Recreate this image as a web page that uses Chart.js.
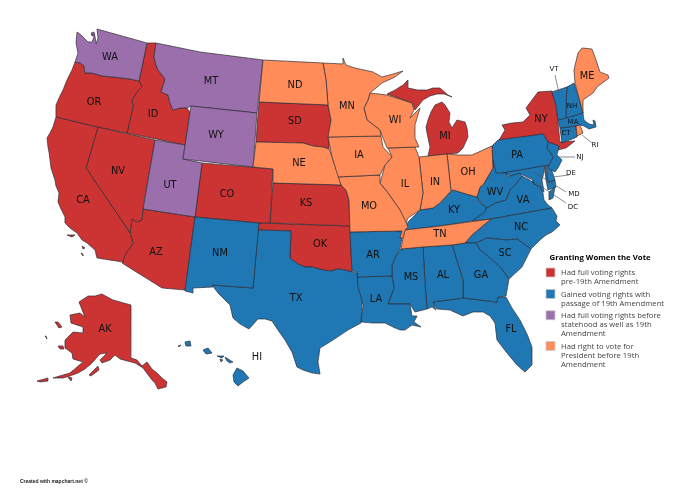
<!DOCTYPE html>
<html>
<head>
<meta charset="utf-8">
<title>Granting Women the Vote</title>
<script src="https://cdn.jsdelivr.net/npm/chart.js@4"></script>
<style>
  body { margin: 0; background: #fff; }
  canvas { display: block; }
</style>
</head>
<body>
<canvas id="map" width="675" height="491"></canvas>
<script>
// state outlines as [x, y] in map units
const WA = [[77,32],[80,34],[84,38],[88,42],[92,42],[94,37],[92,34],[95,36],[96,44],[98,38],[97,29],[122,36],[147,43],[139,81],[130,79],[113,77],[102,76],[92,73],[85,73],[84,66],[80,63],[75,62],[78,53],[76,43]];
const WA2 = [[91,33],[94,32],[95,35],[92,36]];
const OR = [[75,62],[80,63],[84,66],[85,73],[92,73],[102,76],[113,77],[130,79],[139,81],[142,87],[137,92],[132,100],[133,107],[127,133],[98,127],[56,117],[56,105],[60,96],[63,90],[67,80],[72,70]];
const CA = [[56,117],[98,127],[86,168],[130,233],[133,243],[130,248],[125,255],[123,262],[97,258],[95,250],[87,243],[82,240],[77,233],[70,228],[65,223],[65,217],[61,209],[58,202],[59,193],[56,186],[55,180],[51,168],[50,160],[49,152],[48,147],[47,138],[50,133],[53,127]];
const CA2 = [[67,235],[75,235],[72,237]];
const CA3 = [[82,246],[85,248],[83,249]];
const CA4 = [[81,253],[83,254],[83,256]];
const ID = [[147,43],[156,43],[154,57],[156,65],[158,70],[165,79],[161,92],[168,95],[170,103],[173,110],[180,108],[187,108],[190,112],[185,145],[127,133],[133,107],[132,100],[137,92],[142,87],[139,81]];
const NV = [[98,127],[155,140],[143,209],[142,220],[137,222],[132,219],[130,233],[86,168]];
const AZ = [[143,209],[195,217],[185,290],[162,288],[122,263],[125,255],[130,248],[133,243],[130,233],[132,219],[137,222],[142,220]];
const CO = [[202,163],[273,169],[270,223],[259,223],[195,217]];
const SD = [[259,102],[328,105],[331,120],[329,137],[329,149],[323,147],[313,146],[303,143],[256,142]];
const KS = [[273,183],[341,185],[346,190],[349,200],[350,226],[270,223]];
const OK = [[259,223],[350,226],[352,272],[345,270],[338,269],[331,271],[323,270],[312,267],[305,267],[298,264],[290,258],[291,231],[258,230]];
const AK = [[79,302],[88,296],[95,296],[102,294],[113,300],[131,305],[131,358],[137,360],[142,366],[147,362],[152,369],[157,373],[162,378],[167,382],[166,387],[158,389],[155,383],[152,380],[143,368],[135,363],[120,359],[115,355],[110,360],[102,363],[100,360],[107,353],[100,354],[92,363],[85,369],[78,373],[70,376],[63,378],[53,378],[63,375],[70,373],[77,367],[83,362],[73,359],[72,353],[65,348],[65,340],[73,332],[83,333],[83,327],[71,323],[70,315],[80,313],[85,317]];
const AK2 = [[89,375],[98,366],[99,370],[91,376]];
const AK3 = [[37,381],[48,378],[48,381],[40,382]];
const AK4 = [[55,322],[58,322],[62,327],[59,328]];
const AK5 = [[58,346],[63,346],[64,349],[60,349]];
const AK6 = [[45,336],[46,336],[47,339]];
const AK7 = [[68,377],[72,378],[71,381]];
const MI = [[387,94],[395,90],[403,85],[408,80],[408,88],[418,90],[427,90],[433,88],[440,88],[448,95],[452,97],[444,94],[437,94],[430,96],[423,100],[415,110],[412,103]];
const MI2 = [[428,156],[458,153],[463,148],[468,137],[467,128],[465,122],[457,120],[452,128],[449,122],[450,113],[445,105],[442,102],[435,105],[431,112],[428,120],[426,127],[427,133],[430,147]];
const NY = [[498,142],[505,130],[502,125],[512,123],[523,122],[530,115],[526,108],[532,100],[538,92],[552,91],[555,102],[557,113],[560,142],[575,141],[566,148],[558,150],[559,146],[548,142],[543,134]];

const NM = [[195,217],[259,223],[253,288],[212,285],[213,287],[193,288],[193,293],[185,291]];
const TX = [[258,230],[291,231],[290,258],[298,264],[305,267],[312,267],[323,270],[331,271],[338,269],[345,270],[352,272],[357,273],[358,287],[362,300],[361,323],[348,330],[333,340],[325,345],[320,348],[318,362],[320,374],[312,373],[303,370],[297,367],[292,352],[285,340],[280,333],[272,321],[265,319],[258,319],[249,329],[240,324],[233,318],[230,305],[224,299],[218,293],[212,285],[253,288]];
const AR = [[350,232],[402,231],[400,238],[402,238],[400,249],[396,256],[392,265],[392,276],[357,277],[357,272],[352,271]];
const LA = [[357,277],[392,276],[394,288],[388,304],[410,304],[412,316],[417,316],[414,322],[421,327],[412,325],[405,330],[400,330],[393,327],[385,323],[372,323],[361,322],[363,305],[357,290]];
const MS = [[401,249],[423,247],[425,283],[427,309],[415,312],[410,304],[388,304],[394,288],[392,276],[392,265],[396,256]];
const AL = [[423,247],[452,245],[463,280],[463,298],[433,302],[436,310],[432,307],[427,309],[425,283]];
const GA = [[452,245],[465,243],[476,243],[480,250],[490,258],[500,267],[509,279],[506,296],[498,297],[497,302],[463,298],[463,280]];
const FL = [[433,302],[463,298],[497,302],[498,297],[506,297],[512,308],[520,320],[527,334],[532,347],[532,365],[525,372],[517,365],[507,353],[497,340],[495,323],[490,316],[483,312],[473,312],[463,316],[450,310],[437,309]];
const SC = [[476,243],[487,238],[507,240],[517,239],[531,249],[522,267],[509,279],[500,267],[490,258],[480,250]];
const NC = [[491,219],[552,208],[557,216],[556,221],[560,225],[552,232],[546,235],[540,240],[531,249],[517,239],[507,240],[487,238],[476,243],[465,243],[472,235]];
const KY = [[405,230],[408,222],[420,210],[433,208],[440,203],[447,195],[453,190],[463,193],[477,197],[480,203],[486,207],[485,212],[472,221],[440,226]];
const WV = [[493,160],[496,173],[507,173],[507,177],[520,173],[522,176],[515,185],[510,190],[506,200],[495,203],[485,209],[477,197],[480,187],[483,185],[493,168]];
const VA = [[472,221],[485,209],[495,203],[506,200],[510,190],[515,185],[522,176],[530,180],[534,184],[540,187],[543,193],[544,200],[548,205],[552,208],[491,219]];
const VA2 = [[549,200],[549,192],[555,187],[553,198]];
const PA = [[492,146],[498,140],[543,134],[548,142],[547,148],[553,157],[549,165],[496,174],[493,168]];
const NJ = [[548,142],[559,146],[557,155],[562,160],[558,168],[555,172],[548,168],[553,157],[547,148]];
const DE = [[546,164],[550,165],[555,180],[548,182]];
const MD = [[496,174],[545,165],[544,172],[542,180],[544,192],[535,187],[533,180],[521,174],[512,176],[507,175],[497,180]];
const MD2 = [[545,165],[548,182],[555,180],[556,187],[548,190],[546,180],[545,172]];
const DC = [[533,180],[537,181],[538,185],[534,186],[531,183]];
const VT = [[552,92],[567,87],[566,102],[566,118],[558,120],[556,105]];
const NH = [[567,87],[574,83],[578,95],[583,113],[566,118],[566,102]];
const MA = [[558,120],[583,113],[584,120],[589,124],[594,125],[593,120],[595,121],[596,127],[589,129],[584,126],[580,125],[576,126],[560,128]];
const CT = [[560,128],[576,126],[577,137],[562,143]];
const HI1 = [[233,375],[237,368],[243,371],[249,378],[243,382],[238,386],[234,382]];
const HI2 = [[225,357],[233,362],[230,363],[227,361]];
const HI3 = [[203,350],[208,348],[212,353],[206,354]];
const HI4 = [[185,342],[190,341],[191,346],[186,346]];
const HI5 = [[178,346],[181,345],[179,347]];
const HI6 = [[217,356],[224,356],[222,358]];
const HI7 = [[220,359],[223,360],[221,362]];

const WY = [[191,106],[257,113],[253,167],[183,159]];
const MT = [[156,43],[200,52],[263,60],[257,113],[191,106],[187,108],[180,108],[173,110],[170,103],[168,95],[161,92],[165,79],[158,70],[156,65],[154,57]];
const UT = [[155,140],[185,145],[183,159],[202,163],[195,217],[143,209]];

const ND = [[263,60],[323,63],[326,80],[328,105],[259,102]];
const NE = [[256,142],[303,143],[313,146],[323,147],[329,149],[332,157],[337,173],[341,185],[273,183],[273,169],[253,167]];
const MN = [[323,63],[343,64],[343,58],[346,65],[355,68],[373,72],[382,77],[393,74],[403,71],[395,77],[382,83],[370,93],[368,100],[364,108],[367,120],[380,130],[381,136],[328,137],[331,120],[328,105],[326,80]];
const IA = [[328,137],[381,136],[383,147],[392,157],[385,165],[380,175],[337,177],[332,157]];
const MO = [[337,177],[380,175],[380,183],[388,193],[395,203],[400,210],[405,220],[408,227],[405,230],[403,238],[400,238],[402,231],[350,232],[349,200],[346,190],[341,185]];
const WI = [[370,93],[387,95],[412,103],[414,110],[410,118],[420,108],[415,125],[415,138],[419,147],[387,148],[383,138],[380,130],[367,120],[364,108],[368,100]];
const IL = [[388,148],[415,147],[419,157],[423,193],[420,210],[408,218],[405,226],[400,218],[400,210],[395,203],[388,193],[380,183],[382,176],[385,165],[392,157]];
const IN = [[419,157],[447,154],[451,191],[440,203],[433,208],[420,210],[423,193]];
const OH = [[447,154],[458,155],[472,155],[492,146],[493,168],[483,185],[480,187],[477,197],[463,193],[453,190],[451,191]];
const TN = [[405,230],[440,226],[491,219],[472,235],[465,243],[452,245],[423,247],[401,249],[403,238]];
const ME = [[583,113],[575,83],[574,70],[578,53],[582,48],[592,49],[596,60],[600,72],[608,75],[609,78],[597,87],[593,93],[583,100]];
const RI = [[576,126],[580,125],[583,133],[577,136]];

const fullRights = [OR, CA, CA2, CA3, CA4, ID, NV, AZ, CO, SD, KS, OK, AK, AK2, AK3, AK4, AK5, AK6, AK7, MI, MI2, NY];
const gainedRights = [NM, TX, AR, LA, MS, AL, GA, FL, SC, NC, KY, WV, VA, VA2, PA, NJ, DE, MD, MD2, DC, VT, NH, MA, CT, HI1, HI2, HI3, HI4, HI5, HI6, HI7];
const beforeStatehood = [WA, WA2, WY, MT, UT];
const presidentOnly = [ND, NE, MN, IA, MO, WI, IL, IN, OH, TN, ME, RI];

const leaders = [
  [[555,75],[559,93]],
  [[592,143],[582,135]],
  [[575,157],[558,157]],
  [[569,175],[553,177]],
  [[566,192],[534,172]],
  [[566,203],[536,183]]
];

const stateLabels = ['WA','OR','CA','NV','ID','MT','WY','UT','AZ','CO','NM','ND','SD','NE','KS','OK','TX','MN','IA','MO','AR','LA','WI','IL','IN','OH','MI','KY','TN','MS','AL','GA','FL','SC','NC','VA','WV','PA','NY','ME','AK','HI'];
const labelX = [110,94,83,118,153,211,216,170,156,227,220,295,295,299,306,320,296,347,359,369,373,376,395,405,435,468,445,454,440,411,443,481,511,505,521,523,495,517,541,587,105,257];
const labelY = [57,102,200,171,114,81,135,185,252,194,253,85,121,163,203,244,298,106,155,206,255,299,120,184,182,172,136,210,234,277,275,275,329,253,227,200,192,155,119,76,329,357];
const smallLabels = ['VT','NH','MA','CT','NJ','DE','MD','DC','RI'];
const smallX = [554,572,573,566,580,571,574,573,595];
const smallY = [69,106,122,133,157,173,194,207,145];

const legendTitle = 'Granting Women the Vote';
const legendLines = [
  ['Had full voting rights', 'pre-19th Amendment'],
  ['Gained voting rights with', 'passage of 19th Amendment'],
  ['Had full voting rights before', 'statehood as well as 19th', 'Amendment'],
  ['Had right to vote for', 'President before 19th', 'Amendment']
];
const legendColors = ['#cc3333', '#1f78b4', '#9a6fab', '#ff8c59'];

const toPoints = shape => shape.concat([shape[0]]).map(p => ({ x: p[0], y: p[1] }));
const shapeSet = (shape, color) => ({
  data: toPoints(shape),
  showLine: true,
  fill: 'shape',
  backgroundColor: color,
  borderColor: '#2b2b33',
  borderWidth: 0.7,
  pointRadius: 0,
  tension: 0.001,
  clip: false
});

const datasets = [];
leaders.forEach(l => datasets.push({
  data: toPoints(l).slice(0, 2),
  showLine: true,
  borderColor: '#555',
  borderWidth: 0.7,
  pointRadius: 0,
  tension: 0.001
}));
[presidentOnly, beforeStatehood, gainedRights, fullRights].forEach((group, i) => {
  const color = [legendColors[3], legendColors[2], legendColors[1], legendColors[0]][i];
  group.forEach(s => datasets.push(shapeSet(s, color)));
});

// text on the map plus the key at the right, drawn over the shapes
const mapText = {
  id: 'mapText',
  afterDraw(chart) {
    const { ctx, scales: { x, y } } = chart;
    ctx.save();
    ctx.textAlign = 'center';
    ctx.textBaseline = 'middle';
    ctx.fillStyle = '#111';
    ctx.font = '9.8px "DejaVu Sans"';
    stateLabels.forEach((t, i) => ctx.fillText(t, x.getPixelForValue(labelX[i]), y.getPixelForValue(labelY[i])));
    ctx.font = '7px "DejaVu Sans"';
    smallLabels.forEach((t, i) => ctx.fillText(t, x.getPixelForValue(smallX[i]), y.getPixelForValue(smallY[i])));

    ctx.textAlign = 'left';
    ctx.fillStyle = '#000';
    ctx.font = 'bold 7.8px "Open Sans"';
    ctx.fillText(legendTitle, x.getPixelForValue(549.5), y.getPixelForValue(258));
    ctx.font = '7.7px "Open Sans"';
    let row = 273;
    legendLines.forEach((lines, i) => {
      ctx.fillStyle = legendColors[i];
      ctx.strokeStyle = '#ccc';
      ctx.lineWidth = 0.8;
      ctx.fillRect(546, row - 5, 9, 9);
      ctx.strokeRect(546, row - 5, 9, 9);
      ctx.fillStyle = '#444';
      lines.forEach((line, j) => ctx.fillText(line, 561, row + j * 9.2));
      row += lines.length * 9.2 + 3;
    });
    ctx.fillStyle = '#222';
    ctx.font = 'bold 5px "Liberation Sans"';
    ctx.fillText('Created with mapchart.net ©', 20, 482);
    ctx.restore();
  }
};

new Chart(document.getElementById('map').getContext('2d'), {
  type: 'scatter',
  data: { datasets },
  plugins: [mapText],
  options: {
    responsive: false,
    animation: false,
    events: [],
    layout: { padding: 0 },
    plugins: { legend: { display: false }, tooltip: { enabled: false } },
    scales: {
      x: { type: 'linear', min: 0, max: 675, display: false },
      y: { type: 'linear', min: 0, max: 491, reverse: true, display: false }
    }
  }
});
</script>
</body>
</html>
